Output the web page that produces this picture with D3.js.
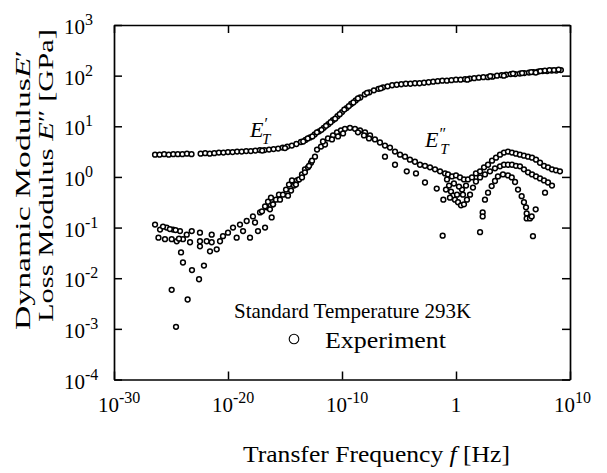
<!DOCTYPE html>
<html>
<head>
<meta charset="utf-8">
<script src="https://cdn.jsdelivr.net/npm/d3@7"></script>
<style>
  body { margin: 0; background: #fff; }
  text { font-family: "Liberation Serif", "Times New Roman", serif; fill: #000; }
</style>
</head>
<body>
<script>
// Master curves at 293 K.
// Each point: [log10 f (Hz), log10 modulus (GPa)]
const storagePts = [
  [-26.4,0.44],[-26.0,0.44],[-25.6,0.45],[-25.2,0.44],[-24.8,0.45],[-24.4,0.45],[-24.0,0.45],[-23.6,0.46],
  [-23.2,0.45],[-22.4,0.46],[-22.0,0.47],[-21.6,0.46],[-21.2,0.47],[-20.8,0.48],[-20.4,0.48],[-20.0,0.49],
  [-19.6,0.49],[-19.2,0.50],[-18.8,0.50],[-18.4,0.51],[-18.0,0.51],[-17.6,0.52],[-17.2,0.53],[-16.8,0.53],
  [-16.4,0.54],[-16.0,0.55],[-15.6,0.56],[-15.2,0.58],[-14.8,0.60],[-14.4,0.62],[-14.0,0.65],[-13.6,0.69],
  [-13.2,0.73],[-12.8,0.78],[-12.4,0.84],[-12.0,0.90],[-11.6,0.97],[-11.2,1.04],[-10.8,1.12],[-10.4,1.20],
  [-10.0,1.28],[-9.6,1.36],[-9.2,1.44],[-8.8,1.51],[-8.4,1.57],[-8.0,1.63],[-7.6,1.67],[-7.2,1.71],
  [-6.8,1.74],[-6.4,1.77],[-6.0,1.79],[-5.6,1.81],[-5.2,1.82],[-4.8,1.83],[-4.4,1.84],[-4.0,1.84],
  [-3.6,1.85],[-3.2,1.85],[-2.8,1.86],[-2.4,1.87],[-2.0,1.88],[-1.6,1.89],[-1.2,1.90],[-0.8,1.90],
  [-0.4,1.91],[0.0,1.92],[0.4,1.92],[0.8,1.93],[1.2,1.94],[1.6,1.95],[2.0,1.96],[2.4,1.97],
  [2.8,1.97],[3.2,1.98],[3.6,2.00],[4.0,2.01],[4.4,2.02],[4.8,2.03],[5.2,2.03],[5.6,2.04],
  [6.0,2.05],[6.4,2.06],[6.8,2.07],[7.2,2.08],[7.6,2.09],[8.0,2.09],[8.4,2.10],[8.8,2.10],[9.2,2.11],
  [-17.0,0.52],[-15.0,0.57],[-13.4,0.70],[-13.0,0.76],[-12.6,0.80],[-12.2,0.88],[-11.8,0.93],[-11.4,1.01],
  [-11.0,1.08],[-10.6,1.15],[-10.2,1.24],[-9.8,1.33],[-9.4,1.40],[-9.0,1.47],[-8.6,1.55],[-7.8,1.66],
  [-6.6,1.75],[1.0,1.92],[3.0,1.99],[4.2,2.00],[5.0,2.04],[5.8,2.05],[6.6,2.07],[7.0,2.06],
  [7.4,2.09],[7.8,2.10],[8.2,2.11],[8.6,2.11],[9.0,2.12]
];

const lossPts = [
  // low-frequency end
  [-26.40,-0.94],[-25.96,-1.04],[-25.38,-1.00],[-24.82,-1.04],[-24.21,-1.07],[-25.53,-1.23],[-24.94,-1.23],
  [-24.50,-1.27],[-23.95,-1.23],[-23.33,-1.29],[-23.62,-1.14],[-23.18,-1.07],[-22.46,-1.10],[-22.46,-1.27],
  [-22.46,-1.37],[-21.87,-1.27],[-21.43,-1.14],[-21.43,-1.29],[-21.58,-1.47],[-20.99,-1.43],[-20.70,-1.27],
  [-20.44,-1.17],[-20.00,-1.10],[-19.56,-1.00],[-18.95,-0.94],[-18.36,-0.87],[-17.81,-0.78],[-17.19,-0.70],
  [-16.61,-0.60],[-16.05,-0.54],
  [-25.70,-0.98],[-25.10,-1.03],[-24.60,-1.05],[-26.10,-1.20],[-24.30,-1.22],
  [-19.24,-1.20],[-18.68,-1.07],[-18.07,-1.20],[-17.63,-0.90],[-17.37,-1.07],[-16.75,-1.00],[-16.17,-0.80],
  [-24.12,-1.49],[-23.95,-1.69],[-23.16,-1.84],[-22.54,-2.02],[-22.11,-1.75],[-24.94,-2.23],[-23.54,-2.42],
  [-24.56,-2.96],
  // rise towards the main peak
  [-17.02,-0.68],[-16.75,-0.58],[-16.49,-0.49],[-16.23,-0.41],
  [-16.32,-0.64],[-16.05,-0.54],[-15.79,-0.45],[-15.53,-0.35],
  [-15.44,-0.45],[-15.18,-0.35],[-14.91,-0.25],[-14.65,-0.15],[-14.39,-0.07],
  [-14.74,-0.37],[-14.47,-0.27],[-14.21,-0.17],[-13.95,-0.07],
  [-14.04,-0.15],[-13.77,-0.05],[-13.51,0.05],[-13.25,0.15],
  [-13.51,-0.01],[-13.25,0.09],[-12.98,0.19],[-12.72,0.28],
  [-12.89,0.22],[-12.63,0.32],[-12.37,0.40],
  [-12.19,0.54],[-11.84,0.60],[-11.49,0.64],
  // main peak and descent
  [-11.67,0.70],[-11.23,0.76],[-10.79,0.82],[-10.44,0.88],[-10.09,0.92],[-9.74,0.95],[-9.30,0.97],
  [-8.86,0.95],[-8.42,0.92],[-7.98,0.88],[-7.54,0.82],[-7.11,0.74],[-6.67,0.68],[-6.23,0.62],
  [-5.79,0.58],[-5.35,0.50],[-4.91,0.44],[-4.47,0.40],[-4.04,0.34],[-3.60,0.30],[-3.16,0.24],
  [-2.72,0.22],[-2.28,0.19],[-1.84,0.15],[-1.40,0.11],[-0.96,0.07],
  [-10.88,0.74],[-10.35,0.80],[-9.91,0.86],[-8.60,0.88],[-8.07,0.82],[-7.63,0.76],
  [-6.23,0.40],[-5.35,0.24],[-4.32,0.11],[-3.51,0.07],[-2.72,-0.11],[-1.69,-0.23],[-1.11,-0.45],[-1.17,-1.16],
  // high-frequency secondary peaks
  [-0.70,0.05],[-0.35,0.01],[0.00,0.03],[0.35,-0.01],[0.70,-0.05],[1.05,-0.05],[1.40,-0.01],[1.75,0.07],
  [2.11,0.11],[2.46,0.19],[2.81,0.24],[3.16,0.32],[3.51,0.38],[3.86,0.44],[4.21,0.48],[4.56,0.50],
  [4.91,0.48],[5.26,0.46],[5.61,0.44],[5.96,0.42],[6.32,0.40],[6.67,0.38],[7.02,0.34],[7.37,0.28],
  [7.72,0.22],[8.07,0.19],[8.42,0.15],[8.77,0.13],[9.12,0.11],
  [2.11,-0.01],[2.54,0.05],[2.98,0.11],[3.42,0.17],[3.86,0.21],[4.21,0.24],[4.56,0.24],[4.91,0.24],
  [5.26,0.22],[5.61,0.21],[5.96,0.15],[6.32,0.09],[6.67,0.05],[7.02,0.01],[7.37,-0.03],[7.72,-0.07],
  [8.07,-0.11],[8.42,-0.17],
  [-0.79,-0.05],[-0.61,-0.17],[-0.44,-0.29],[-0.26,-0.37],[-0.09,-0.45],[0.18,-0.50],[0.44,-0.56],
  [0.70,-0.54],[0.96,-0.45],[1.23,-0.35],[1.49,-0.21],[1.75,-0.09],[-0.88,-0.25],[-0.53,-0.41],
  [0.09,-0.35],[0.53,-0.25],[0.88,-0.17],[-0.18,-0.13],[0.26,-0.19],[0.61,-0.35],
  [2.54,-0.45],[2.81,-0.31],[3.13,-0.18],[3.42,-0.08],[3.68,0.01],[4.12,0.05],[4.56,0.03],[4.89,-0.01],
  [5.18,-0.10],[5.44,-0.25],[5.76,-0.38],[5.96,-0.50],[6.14,-0.60],
  [6.20,-0.72],[6.20,-0.82],[6.49,-0.82],[6.64,-0.78],[6.99,-0.64],[7.81,-0.31],[6.75,-1.17],
  [2.34,-0.70],[2.34,-0.78],[2.11,-1.09]
];

const xTickExps = [-30, -20, -10, 0, 10];
const yTickExps = [-4, -3, -2, -1, 0, 1, 2, 3];

const W = 607, H = 473;
const plot = { left: 114, right: 570, top: 25, bottom: 379.5 };

const x = d3.scaleLog().domain([1e-30, 1e10]).range([plot.left, plot.right]);
const y = d3.scaleLog().domain([1e-4, 1e3]).range([plot.bottom, plot.top]);

const svg = d3.select('body').append('svg')
  .attr('width', W)
  .attr('height', H);

svg.append('rect').attr('width', W).attr('height', H).attr('fill', '#fff');

const xVals = xTickExps.map((e) => Math.pow(10, e));
const yVals = yTickExps.map((e) => Math.pow(10, e));

// frame: four axes with inward ticks
const axes = [
  [d3.axisBottom(x).tickValues(xVals), `translate(0,${plot.bottom})`],
  [d3.axisTop(x).tickValues(xVals), `translate(0,${plot.top})`],
  [d3.axisLeft(y).tickValues(yVals), `translate(${plot.left},0)`],
  [d3.axisRight(y).tickValues(yVals), `translate(${plot.right},0)`]
];
axes.forEach(([ax, tr]) => {
  const g = svg.append('g')
    .attr('transform', tr)
    .call(ax.tickSizeInner(-8).tickSizeOuter(0).tickFormat(''));
  g.select('.domain').attr('stroke', '#000').attr('stroke-width', 1.7);
  g.selectAll('.tick line').attr('stroke', '#000').attr('stroke-width', 1.5);
});

// tick labels
const yLab = svg.append('g').attr('font-size', 21);
yTickExps.forEach((e) => {
  const t = yLab.append('text')
    .attr('x', 64)
    .attr('y', y(Math.pow(10, e)) + 9);
  t.append('tspan').text('10');
  t.append('tspan').attr('dy', -9).attr('font-size', 16).text(String(e));
});

const xLab = svg.append('g').attr('font-size', 21);
xTickExps.forEach((e) => {
  const px = x(Math.pow(10, e));
  if (e === 0) {
    xLab.append('text').attr('x', px).attr('y', 412).attr('text-anchor', 'middle').text('1');
  } else {
    const t = xLab.append('text').attr('x', px - 16).attr('y', 412);
    t.append('tspan').text('10');
    t.append('tspan').attr('dy', -9).attr('font-size', 16).text(String(e));
  }
});

// axis titles (the original type is set wide, so glyphs are stretched to length)
const xt = svg.append('text')
  .attr('x', 243)
  .attr('y', 462)
  .attr('font-size', 23)
  .attr('textLength', 267)
  .attr('lengthAdjust', 'spacingAndGlyphs');
xt.append('tspan').text('Transfer Frequency ');
xt.append('tspan').attr('font-style', 'italic').text('f');
xt.append('tspan').text('  [Hz]');

const yt1 = svg.append('text')
  .attr('transform', 'translate(30,330) rotate(-90)')
  .attr('font-size', 22)
  .attr('textLength', 280)
  .attr('lengthAdjust', 'spacingAndGlyphs');
yt1.append('tspan').text('Dynamic Modulus');
yt1.append('tspan').attr('font-style', 'italic').text('E');
yt1.append('tspan').text('′');

const yt2 = svg.append('text')
  .attr('transform', 'translate(53,322) rotate(-90)')
  .attr('font-size', 22)
  .attr('textLength', 293)
  .attr('lengthAdjust', 'spacingAndGlyphs');
yt2.append('tspan').text('Loss Modulus  ');
yt2.append('tspan').attr('font-style', 'italic').text('E');
yt2.append('tspan').text('″ [GPa]');

// data points
const pts = svg.append('g')
  .attr('fill', '#fff')
  .attr('stroke', '#000')
  .attr('stroke-width', 1.5);

pts.selectAll('.loss')
  .data(lossPts)
  .enter()
  .append('circle')
  .attr('class', 'loss')
  .attr('cx', (d) => x(Math.pow(10, d[0])))
  .attr('cy', (d) => y(Math.pow(10, d[1])))
  .attr('r', 2.4);

pts.selectAll('.storage')
  .data(storagePts)
  .enter()
  .append('circle')
  .attr('class', 'storage')
  .attr('cx', (d) => x(Math.pow(10, d[0])))
  .attr('cy', (d) => y(Math.pow(10, d[1])))
  .attr('r', 2.4);

// curve labels E'_T and E''_T
function curveLabel(px, py, primes) {
  const t = svg.append('text')
    .attr('x', px)
    .attr('y', py)
    .attr('font-style', 'italic')
    .attr('font-size', 22);
  t.append('tspan').text('E');
  t.append('tspan').attr('dy', -8).attr('font-size', 16).text(primes);
  t.append('tspan').attr('dx', primes.length > 1 ? -8 : -5).attr('dy', 15).attr('font-size', 15).text('T');
}
curveLabel(250, 137, '′');
curveLabel(425, 147, '″');

// legend
svg.append('text')
  .attr('x', 234)
  .attr('y', 318)
  .attr('font-size', 21)
  .text('Standard Temperature 293K');

svg.append('circle')
  .attr('cx', 294)
  .attr('cy', 339)
  .attr('r', 4.8)
  .attr('fill', 'none')
  .attr('stroke', '#000')
  .attr('stroke-width', 1.1);

svg.append('text')
  .attr('x', 325)
  .attr('y', 348)
  .attr('font-size', 23)
  .attr('textLength', 121)
  .attr('lengthAdjust', 'spacingAndGlyphs')
  .text('Experiment');
</script>
</body>
</html>
